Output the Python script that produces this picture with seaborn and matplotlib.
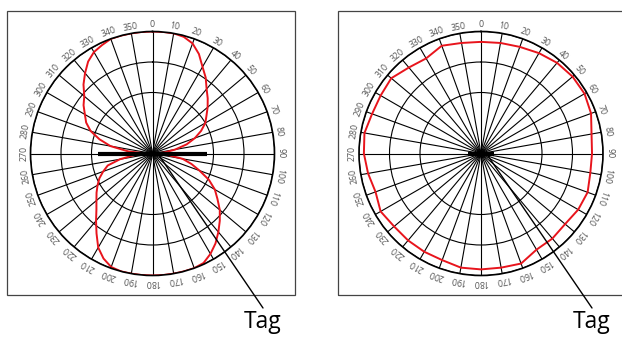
import numpy as np
import pandas as pd
import matplotlib
matplotlib.use("Agg")
import matplotlib.pyplot as plt
import seaborn as sns
from matplotlib.patches import Rectangle

# compass angles (clockwise from top) used for labels / spokes
label_angles = list(range(0, 360, 10))

# left panel: dipole pattern, read every 5 degrees (outer ring = 1.0)
dipole_angles = list(range(0, 360, 5))
dipole_r = [1.00, 1.00, 1.00, 0.99, 0.96, 0.90, 0.82, 0.76, 0.69, 0.64,
            0.59, 0.54, 0.50, 0.44, 0.37, 0.29, 0.19, 0.10,
            0.03, 0.12, 0.25, 0.33, 0.41, 0.51, 0.59, 0.65, 0.72, 0.78,
            0.84, 0.90, 0.95, 0.99, 1.00, 1.00, 1.00, 1.00,
            1.00, 1.00, 1.00, 1.00, 0.99, 0.95, 0.89, 0.80, 0.72, 0.65,
            0.60, 0.56, 0.52, 0.48, 0.43, 0.38, 0.27, 0.15,
            0.05, 0.20, 0.35, 0.45, 0.54, 0.60, 0.64, 0.69, 0.73, 0.80,
            0.86, 0.92, 0.96, 0.98, 1.00, 1.00, 1.00, 1.00]

# right panel: near omnidirectional pattern, read every 10 degrees
omni_angles = list(range(0, 360, 10))
omni_r = [0.915, 0.92, 0.93, 0.95, 0.97, 0.98, 0.98, 0.96, 0.92, 0.91,
          0.91, 0.93, 0.92, 0.90, 0.91, 0.91, 0.96, 0.95, 0.95, 0.95,
          0.93, 0.93, 0.93, 0.93, 0.95, 0.92, 0.94, 0.96, 0.97, 0.95,
          0.95, 0.96, 0.92, 0.90, 0.94, 0.92]

ring_levels = [0.5, 0.75, 1.0]
bar_half = [0.45, 0.11]   # half length of the black bar (antenna) per panel

sns.set_theme(style="white")
plt.rcParams['font.family'] = ['Open Sans', 'DejaVu Sans']

fig = plt.figure(figsize=(6.22, 3.38), dpi=100)

W, H = 622, 338
R = 122
centers = [(152.5, 153.5), (481, 153.5)]
boxes = [(7.5, 11, 287, 284), (338, 11, 300, 284)]
tags = [(263, 308), (592, 308)]
series = [(dipole_angles, dipole_r), (omni_angles, omni_r)]

for i, (ang, r_vals) in enumerate(series):
    bx, by, bw, bh = boxes[i]
    fig.patches.append(Rectangle((bx / W, 1 - (by + bh) / H), bw / W, bh / H,
                                 transform=fig.transFigure, fill=False,
                                 edgecolor='#444444', linewidth=0.9))

    cx, cy = centers[i]
    ax = fig.add_axes([(cx - R) / W, 1 - (cy + R) / H, 2 * R / W, 2 * R / H],
                      projection='polar')
    ax.set_theta_zero_location('N')
    ax.set_theta_direction(-1)
    ax.set_ylim(0, 1.0)
    ax.set_facecolor('white')

    ax.set_xticks(np.deg2rad(label_angles))
    ax.set_xticklabels([])
    ax.set_yticks(ring_levels)
    ax.set_yticklabels([])
    ax.grid(True, color='black', linewidth=0.8)
    ax.spines['polar'].set_color('black')
    ax.spines['polar'].set_linewidth(1.2)
    ax.tick_params(length=0)

    df = pd.DataFrame({'theta': np.deg2rad(ang + [360]),
                       'r': r_vals + [r_vals[0]]})
    sns.lineplot(data=df, x='theta', y='r', ax=ax, sort=False,
                 color='#e8141c', linewidth=1.4, estimator=None)
    ax.set_xlabel('')
    ax.set_ylabel('')

    # antenna bar
    ax.plot([np.pi / 2, 3 * np.pi / 2], [bar_half[i], bar_half[i]],
            color='black', linewidth=3, solid_capstyle='butt')

    # angle labels, tangential
    for a in label_angles:
        ax.text(np.deg2rad(a), 1.055, str(a), rotation=-a, rotation_mode='anchor',
                ha='center', va='center', fontsize=6.3, color='#555555',
                clip_on=False)

    # tag pointer
    tx, ty = tags[i]
    fig.add_artist(plt.Line2D([(cx + 6) / W, tx / W], [1 - (cy + 1) / H, 1 - ty / H],
                              transform=fig.transFigure, color='black', linewidth=1.0))
    fig.text(tx / W, 1 - 322 / H, 'Tag', ha='center', va='center',
             fontsize=16.5, color='black')

fig.savefig('out.png', dpi=100)
